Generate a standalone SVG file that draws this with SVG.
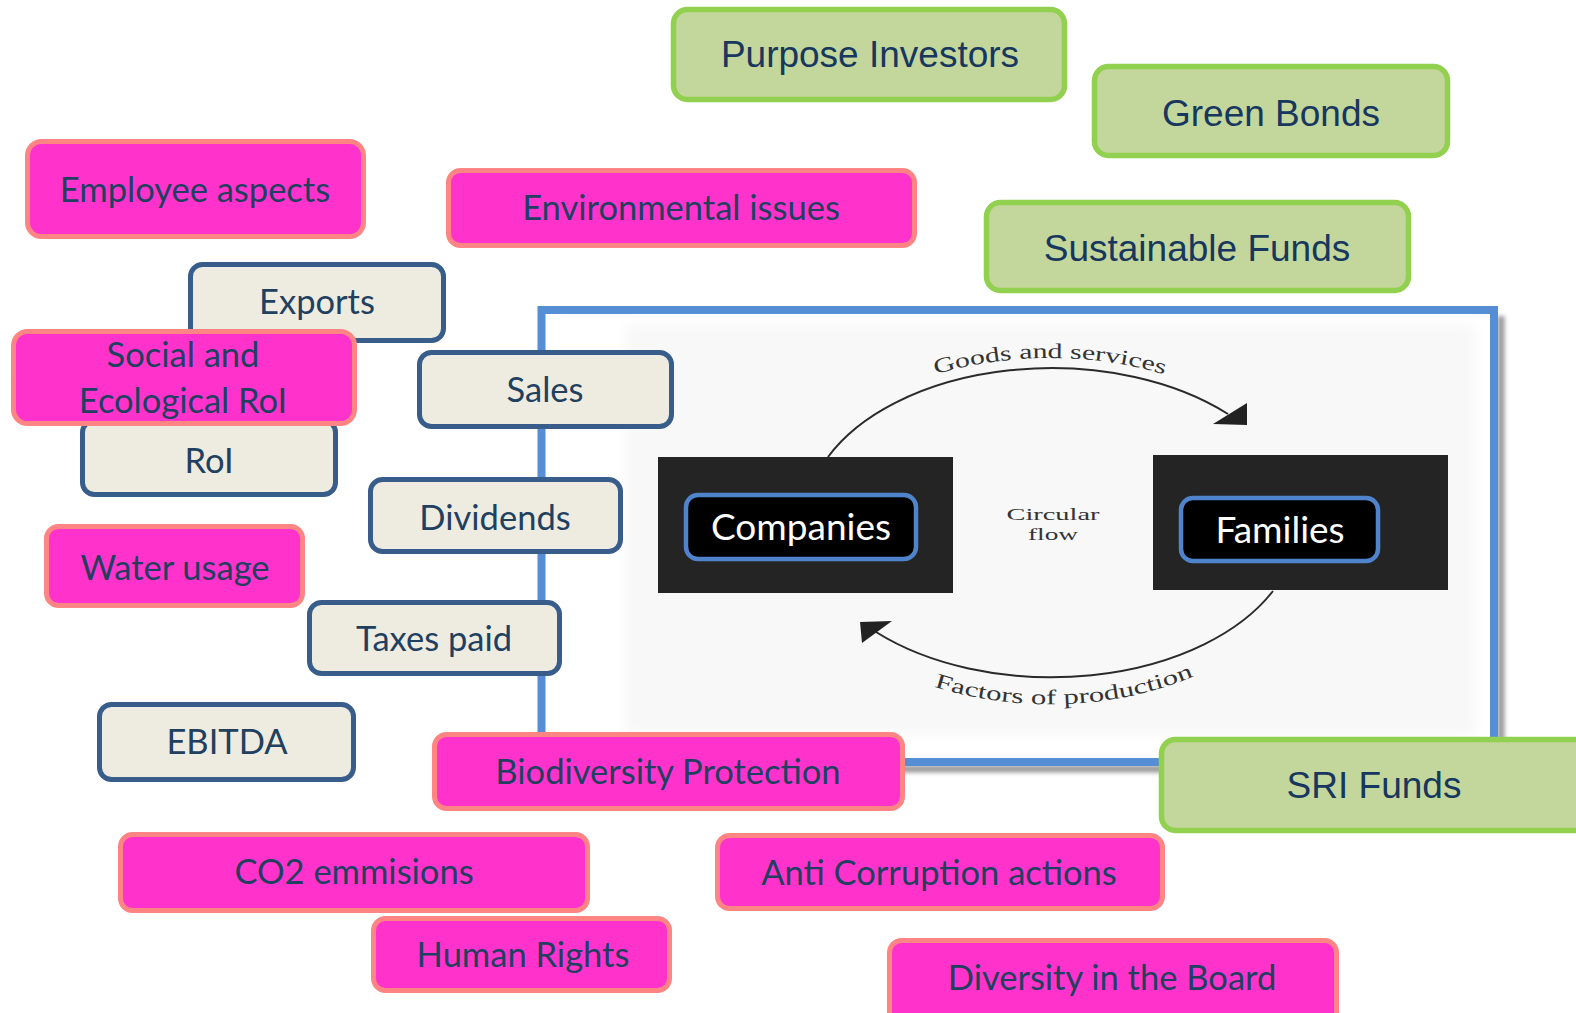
<svg xmlns="http://www.w3.org/2000/svg" width="1576" height="1013" viewBox="0 0 1576 1013">
<style>
.pink rect{fill:#FF33CC;stroke:#FF8585;stroke-width:5}
.beige rect{fill:#EEECE1;stroke:#385D8A;stroke-width:5}
.green rect{fill:#C3D69B;stroke:#92D050;stroke-width:5.5}
.pink text,.beige text{font-family:Lato,"Open Sans",sans-serif;font-size:34.5px;fill:#21405F;text-anchor:middle}
.green text{font-family:"Liberation Sans",Arial,sans-serif;font-size:37px;fill:#17375E;text-anchor:middle}
.inner rect{fill:#000;stroke:#4F83CC;stroke-width:4.5}
.inner text{font-family:Lato,"Open Sans",sans-serif;font-size:37px;fill:#fff;text-anchor:middle}
.scan{font-family:"Liberation Serif","Times New Roman",serif;fill:#333}
.arc{fill:none;stroke:#2a2a2a;stroke-width:2}
</style>
<defs>
<filter id="blur" x="-5%" y="-5%" width="110%" height="110%"><feGaussianBlur stdDeviation="2"/></filter>
<filter id="soft" x="-5%" y="-5%" width="110%" height="110%"><feGaussianBlur stdDeviation="6"/></filter>
<path id="gsPath" d="M 806 464 A 260 162 0 0 1 1294 464"/>
<path id="fpPath" d="M 796 584 A 270 182 0 0 0 1304 584"/>
</defs>
<rect width="1576" height="1013" fill="#fff"/>

<g id="frame">
<path d="M 1501 316 L 1501 769 L 548 769" fill="none" stroke="#9a9a9a" stroke-width="7" filter="url(#blur)"/>
<rect x="541.5" y="310" width="952.5" height="452" fill="#fff" stroke="#558ED5" stroke-width="8"/>
<rect x="625" y="325" width="850" height="410" fill="#f8f8f8" filter="url(#soft)"/>
<rect x="658" y="457" width="295" height="136" fill="#242424"/>
<rect x="1153" y="455" width="295" height="135" fill="#242424"/>
<text class="scan" x="1053" y="520" font-size="17" fill="#555" text-anchor="middle" textLength="93" lengthAdjust="spacingAndGlyphs">Circular</text>
<text class="scan" x="1053" y="540" font-size="17" fill="#555" text-anchor="middle" textLength="50" lengthAdjust="spacingAndGlyphs">flow</text>
<text class="scan" font-size="21"><textPath href="#gsPath" startOffset="50%" text-anchor="middle" textLength="232" lengthAdjust="spacingAndGlyphs">Goods and services</textPath></text>
<text class="scan" font-size="21"><textPath href="#fpPath" startOffset="52.5%" text-anchor="middle" textLength="265" lengthAdjust="spacingAndGlyphs">Factors of production</textPath></text>
</g>

<g id="connectors">
<path class="arc" d="M 828 457 A 246 152 0 0 1 1228 414"/>
<polygon points="1213,424 1247,403 1247,425" fill="#222"/>
<path class="arc" d="M 1273 591 A 246 152 0 0 1 876 632"/>
<polygon points="860,622 862,643 892,621" fill="#222"/>
</g>

<g id="companies" class="inner"><rect x="686" y="495" width="230" height="64" rx="12"/><text x="801" y="540">Companies</text></g>
<g id="families" class="inner"><rect x="1181" y="498" width="197" height="63" rx="12"/><text x="1280" y="543">Families</text></g>

<g id="exports" class="beige"><rect x="190.5" y="264.5" width="253" height="76" rx="12"/><text x="317" y="314">Exports</text></g>
<g id="sales" class="beige"><rect x="419.5" y="352.5" width="252" height="74" rx="12"/><text x="545" y="402">Sales</text></g>
<g id="roi" class="beige"><rect x="82.5" y="420.5" width="253" height="74" rx="12"/><text x="209" y="473">RoI</text></g>
<g id="dividends" class="beige"><rect x="370.5" y="479.5" width="250" height="72" rx="12"/><text x="495" y="530">Dividends</text></g>
<g id="taxes" class="beige"><rect x="309.5" y="602.5" width="250" height="71" rx="12"/><text x="434" y="651">Taxes paid</text></g>
<g id="ebitda" class="beige"><rect x="99.5" y="704.5" width="254" height="75" rx="12"/><text x="227" y="754">EBITDA</text></g>

<g id="employee" class="pink"><rect x="27.5" y="141.5" width="336" height="95" rx="14"/><text x="195" y="202">Employee aspects</text></g>
<g id="environmental" class="pink"><rect x="448.5" y="170.5" width="466" height="75" rx="12"/><text x="681" y="220">Environmental issues</text></g>
<g id="social" class="pink"><rect x="13.5" y="331.5" width="341" height="92" rx="14"/><text x="183" y="367">Social and</text><text x="183" y="413">Ecological RoI</text></g>
<g id="water" class="pink"><rect x="46.5" y="526.5" width="256" height="79" rx="12"/><text x="175" y="580">Water usage</text></g>
<g id="biodiversity" class="pink"><rect x="434.5" y="734.5" width="468" height="74" rx="12"/><text x="668" y="784">Biodiversity Protection</text></g>
<g id="co2" class="pink"><rect x="120.5" y="834.5" width="467" height="76" rx="12"/><text x="354" y="884">CO2 emmisions</text></g>
<g id="anticorruption" class="pink"><rect x="717.5" y="835.5" width="445" height="73" rx="12"/><text x="939" y="885">Anti Corruption actions</text></g>
<g id="humanrights" class="pink"><rect x="373.5" y="918.5" width="296" height="72" rx="12"/><text x="523" y="967">Human Rights</text></g>
<g id="diversity" class="pink"><rect x="889.5" y="940.5" width="447" height="90" rx="12"/><text x="1112" y="990">Diversity in the Board</text></g>

<g id="purpose" class="green"><rect x="673.5" y="9.5" width="391" height="90" rx="14"/><text x="870" y="67">Purpose Investors</text></g>
<g id="greenbonds" class="green"><rect x="1094.5" y="66.5" width="353" height="89" rx="14"/><text x="1271" y="126">Green Bonds</text></g>
<g id="sustainable" class="green"><rect x="986.5" y="202.5" width="422" height="88" rx="14"/><text x="1197" y="261">Sustainable Funds</text></g>
<g id="sri" class="green"><rect x="1161.5" y="739.5" width="440" height="91" rx="14"/><text x="1374" y="798">SRI Funds</text></g>
</svg>
